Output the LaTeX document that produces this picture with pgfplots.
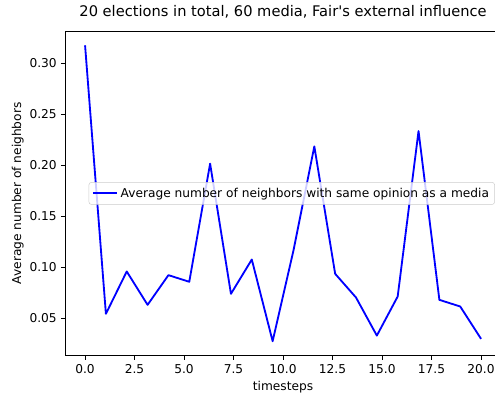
\documentclass[border=0pt]{standalone}
\usepackage{pgfplots}
\pgfplotsset{compat=1.18}
\usepackage{fontspec}
\setmainfont{DejaVu Sans}
\begin{document}
\begin{tikzpicture}
\begin{axis}[
  name=ax,
  scale only axis,
  width=357.1pt, height=266.1pt,
  xmin=-1, xmax=21,
  ymin=0.0136, ymax=0.3315,
  xtick={0,2.5,5,7.5,10,12.5,15,17.5,20},
  ytick={0.05,0.10,0.15,0.20,0.25,0.30},
  tick align=outside,
  major tick length=3.5pt,
  tick style={line width=0.8pt, black},
  xtick pos=bottom, ytick pos=left,
  axis line style={line width=0.8pt, black},
  /pgf/number format/assume math mode=true,
  xticklabel style={font=\fontsize{10}{12}\selectfont, /pgf/number format/.cd, fixed, fixed zerofill, precision=1},
  yticklabel style={font=\fontsize{10}{12}\selectfont, /pgf/number format/.cd, fixed, fixed zerofill, precision=2},
  scaled y ticks=false,
  title={20 elections in total, 60 media, Fair\textquotesingle s external influence},
  title style={font=\fontsize{12}{14}\selectfont, at={(axis description cs:0.5,1.0225)}, anchor=base, inner sep=0pt},
  xlabel={timesteps},
  xlabel style={font=\fontsize{10}{12}\selectfont, at={(axis description cs:0.5,-0.108)}, anchor=base, inner sep=0pt},
  ylabel={Average number of neighbors},
  ylabel style={font=\fontsize{10}{12}\selectfont, at={(axis description cs:-0.109,0.5)}, anchor=center, inner sep=0pt},
  legend style={at={(axis description cs:1,0.5)}, xshift=-5pt, anchor=east,
    draw=black!20, fill=white, fill opacity=0.8, text opacity=1,
    rounded corners=2pt, font=\fontsize{10}{12}\selectfont, inner sep=2.5pt},
  legend cell align=left,
  legend image code/.code={\draw[#1] (0pt,0pt) -- (20pt,0pt);},
]
\addplot[color={rgb,1:red,0;green,0;blue,1}, line width=1.5pt, line join=round] coordinates {
(0.0000,0.3176)
(1.0526,0.0546)
(2.1053,0.0961)
(3.1579,0.0634)
(4.2105,0.0925)
(5.2632,0.0860)
(6.3158,0.2017)
(7.3684,0.0742)
(8.4211,0.1078)
(9.4737,0.0278)
(10.5263,0.1167)
(11.5789,0.2186)
(12.6316,0.0938)
(13.6842,0.0706)
(14.7368,0.0333)
(15.7895,0.0716)
(16.8421,0.2336)
(17.8947,0.0683)
(18.9474,0.0618)
(20.0000,0.0301)
};
\addlegendentry{Average number of neighbors with same opinion as a media}
\end{axis}
\pgfresetboundingbox
\useasboundingbox ([xshift=-53.5pt,yshift=-30.4pt]ax.south west) rectangle ([xshift=-4.8pt,yshift=25.5pt]ax.north east);
\end{tikzpicture}
\end{document}
